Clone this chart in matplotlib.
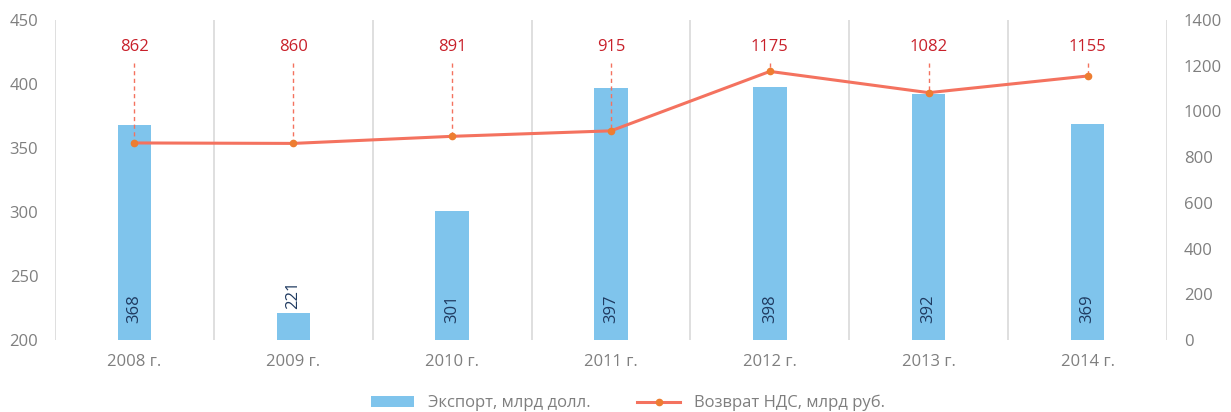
import matplotlib.pyplot as plt
import numpy as np

plt.rcParams['font.family'] = ['Open Sans', 'DejaVu Sans']

years = ['2008 г.', '2009 г.', '2010 г.', '2011 г.', '2012 г.', '2013 г.', '2014 г.']
export_bn_usd = [368, 221, 301, 397, 398, 392, 369]
vat_refund_bn_rub = [862, 860, 891, 915, 1175, 1082, 1155]

bar_color = '#7fc4ec'
line_color = '#f4725f'
marker_color = '#ed7d31'
label_red = '#c8202a'
bar_label_color = '#1f3a60'
tick_gray = '#7f7f7f'
grid_gray = '#d9d9d9'

fig = plt.figure(figsize=(12.31, 4.12), dpi=100)
ax = fig.add_axes([0.0447, 0.1748, 0.9033, 0.7767])
ax2 = ax.twinx()

x = np.arange(len(years))
ax.bar(x, export_bn_usd, width=0.21, color=bar_color, zorder=2,
       label='Экспорт, млрд долл.')
ax.set_ylim(200, 450)
ax.set_yticks(range(200, 451, 50))
ax.set_xlim(-0.5, len(years) - 0.5)
ax.set_xticks(x)
ax.set_xticklabels(years)

for b in np.arange(-0.5, len(years), 1.0):
    ax.axvline(b, color=grid_gray, lw=1.2, zorder=1)

for xi, v in zip(x, export_bn_usd):
    # small bar gets its label above, the rest inside near the base
    y = v + 3 if v < 250 else 213
    ax.text(xi, y, str(v), rotation=90, ha='center', va='bottom',
            color=bar_label_color, fontsize=12, zorder=3)

ax2.plot(x, vat_refund_bn_rub, color=line_color, lw=2.2, marker='o',
         markersize=4.5, markerfacecolor=marker_color,
         markeredgecolor=marker_color, zorder=4,
         label='Возврат НДС, млрд руб.')
ax2.set_ylim(0, 1400)
ax2.set_yticks(range(0, 1401, 200))

lead_top = 0.866 * 1400
text_y = 0.916 * 1400
for xi, v in zip(x, vat_refund_bn_rub):
    ax2.plot([xi, xi], [lead_top, v], color=line_color, lw=1, ls=(0, (3, 2.5)),
             zorder=3)
    ax2.text(xi, text_y, str(v), ha='center', va='center', color=label_red,
             fontsize=12)

for a in (ax, ax2):
    for s in a.spines.values():
        s.set_visible(False)
    a.tick_params(length=0, colors=tick_gray, labelsize=12)
ax.tick_params(axis='x', pad=10)
ax.tick_params(axis='y', pad=12)
ax2.tick_params(axis='y', pad=12)

h1, l1 = ax.get_legend_handles_labels()
h2, l2 = ax2.get_legend_handles_labels()
leg = fig.legend(h1 + h2, l1 + l2, loc='lower center', ncol=2,
                 bbox_to_anchor=(0.51, -0.035), frameon=False, fontsize=12,
                 handlelength=2.6, handleheight=0.6, handletextpad=0.8,
                 columnspacing=2.8, labelcolor=tick_gray)

fig.savefig('out.png', dpi=100)
